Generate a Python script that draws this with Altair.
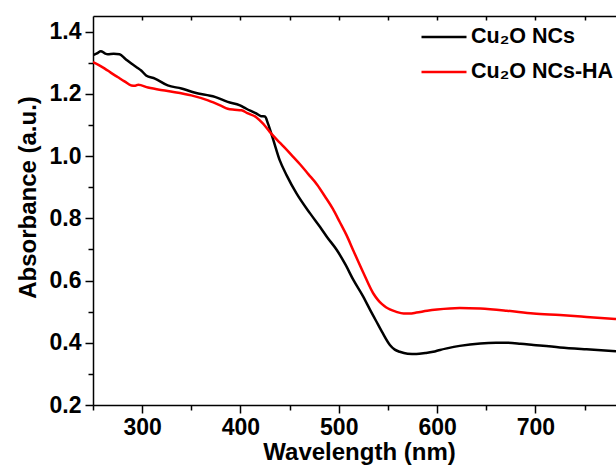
import altair as alt
import pandas as pd

# UV-vis absorbance spectra of the two samples
wl_nc = [250, 254, 258, 262, 265, 271, 277, 283, 289, 295, 299, 304, 313, 326, 340,
         353, 374, 387, 399.5, 406, 416, 421, 425, 428, 433, 440, 447, 457, 471, 481,
         488, 498, 507, 515, 524, 532, 538, 544, 552, 557, 562, 570, 579, 588, 596,
         603, 610, 623, 644, 660, 671, 685, 698, 725, 752, 782]
abs_nc = [1.324, 1.330, 1.337, 1.330, 1.327, 1.329, 1.327, 1.312, 1.297, 1.284, 1.275,
          1.259, 1.249, 1.227, 1.217, 1.204, 1.190, 1.174, 1.163, 1.152, 1.137, 1.128,
          1.127, 1.104, 1.056, 0.986, 0.938, 0.880, 0.815, 0.772, 0.740, 0.698, 0.650,
          0.601, 0.553, 0.505, 0.470, 0.435, 0.393, 0.378, 0.371, 0.365, 0.364, 0.367,
          0.371, 0.377, 0.382, 0.390, 0.398, 0.400, 0.400, 0.397, 0.393, 0.385, 0.379,
          0.373]

wl_ha = [250, 256, 262, 268, 275, 282, 289, 293, 296, 306, 326, 350, 367, 380, 387,
         394, 401, 407, 416, 423, 430, 437, 444, 452, 461, 469, 478, 486, 494, 501,
         508, 515, 525, 535, 540, 544, 548, 552, 558, 566, 572, 579, 590, 600, 623,
         644, 671, 698, 725, 752, 782]
abs_ha = [1.302, 1.292, 1.281, 1.268, 1.254, 1.240, 1.227, 1.226, 1.229, 1.220, 1.209,
          1.195, 1.179, 1.162, 1.152, 1.149, 1.147, 1.138, 1.125, 1.104, 1.077, 1.053,
          1.030, 1.003, 0.972, 0.942, 0.908, 0.870, 0.830, 0.788, 0.745, 0.695, 0.625,
          0.559, 0.537, 0.524, 0.514, 0.507, 0.500, 0.494, 0.494, 0.497, 0.503, 0.507,
          0.512, 0.510, 0.503, 0.494, 0.489, 0.483, 0.476]

series_names = ["Cu\u2082O NCs", "Cu\u2082O NCs-HA"]
series_colors = ["#000000", "#ff0000"]

x_major = [300, 400, 500, 600, 700]
x_minor = [250, 350, 450, 550, 650, 750]
x_top = [300, 350, 400, 450, 500, 550, 600, 650, 700, 750]
y_major = [0.2, 0.4, 0.6, 0.8, 1.0, 1.2, 1.4]
y_minor = [0.3, 0.5, 0.7, 0.9, 1.1, 1.3]

df = pd.concat([
    pd.DataFrame({"wl": wl_nc, "A": abs_nc, "sample": series_names[0]}),
    pd.DataFrame({"wl": wl_ha, "A": abs_ha, "sample": series_names[1]}),
])

FONT = "Liberation Sans"
x_scale = alt.Scale(domain=[250, 782], nice=False, zero=False)
y_scale = alt.Scale(domain=[0.2, 1.45], nice=False, zero=False)
axis_common = dict(domainColor="#000000", domainWidth=1.5, tickColor="#000000",
                   tickWidth=1.5, grid=False, labelFont=FONT, labelFontSize=23,
                   labelFontWeight="bold", labelColor="#000000", titleFont=FONT,
                   titleFontSize=24, titleFontWeight="bold", titleColor="#000000")

lines = alt.Chart(df).mark_line(strokeWidth=2.5, clip=True, interpolate="monotone").encode(
    x=alt.X("wl:Q", scale=x_scale,
            axis=alt.Axis(orient="bottom", values=x_major, format="d", tickSize=8,
                          labelPadding=3, title="Wavelength (nm)", titleX=266,
                          titleY=54, titleBaseline="alphabetic", titleAnchor="middle",
                          **axis_common)),
    y=alt.Y("A:Q", scale=y_scale,
            axis=alt.Axis(orient="left", values=y_major, format=".1f", tickSize=8,
                          labelPadding=4, title="Absorbance (a.u.)", titleX=-58,
                          titleY=181, titleAngle=270, titleBaseline="alphabetic",
                          **axis_common)),
    color=alt.Color("sample:N",
                    scale=alt.Scale(domain=series_names, range=series_colors),
                    legend=alt.Legend(orient="none", legendX=327, legendY=-3, title=None,
                                      symbolType="stroke", symbolSize=2025,
                                      symbolStrokeWidth=2.5, labelFont=FONT,
                                      labelFontSize=21.5, labelFontWeight="bold",
                                      labelColor="#000000", labelOffset=3,
                                      rowPadding=-9, labelLimit=200)),
)

# minor ticks on the bottom and left axes
minor = alt.Chart(df).mark_point(opacity=0).encode(
    x=alt.X("wl:Q", scale=x_scale,
            axis=alt.Axis(orient="bottom", values=x_minor, tickSize=5, labels=False,
                          domain=False, title=None, **axis_common)),
    y=alt.Y("A:Q", scale=y_scale,
            axis=alt.Axis(orient="left", values=y_minor, tickSize=5, labels=False,
                          domain=False, title=None, **axis_common)),
)

# top frame line
top_line = alt.Chart(df).mark_point(opacity=0).encode(
    x=alt.X("wl:Q", scale=x_scale,
            axis=alt.Axis(orient="top", ticks=False, labels=False, title=None,
                          **axis_common)),
    y=alt.Y("A:Q", scale=y_scale, axis=None),
)

# inward ticks along the top frame
top_ticks = alt.Chart(df).mark_point(opacity=0).encode(
    x=alt.X("wl:Q", scale=x_scale,
            axis=alt.Axis(orient="top", values=x_top, tickSize=4, offset=-4,
                          labels=False, domain=False, title=None, **axis_common)),
    y=alt.Y("A:Q", scale=y_scale, axis=None),
)

chart = alt.layer(lines, minor, top_line, top_ticks).resolve_axis(
    x="independent", y="independent"
).properties(
    width=523, height=389,
    padding={"left": 93, "top": 16, "right": 0, "bottom": 63},
    autosize=alt.AutoSizeParams(type="none"),
    background="white",
).configure_view(stroke=None)

chart.save("out.html", embed_options={"renderer": "svg", "actions": False})
